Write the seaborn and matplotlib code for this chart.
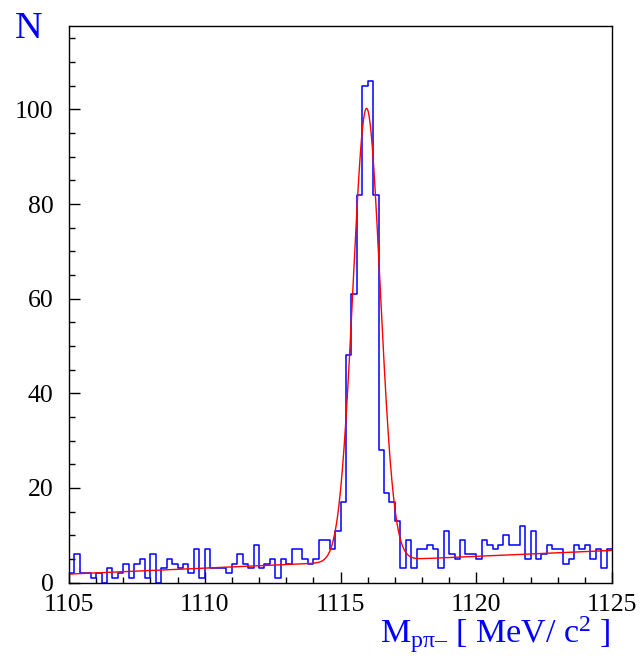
import matplotlib
matplotlib.use("Agg")
import matplotlib.pyplot as plt
import seaborn as sns
import numpy as np
import pandas as pd
from matplotlib.ticker import MultipleLocator

# histogram: 100 bins of 0.2 MeV between 1105 and 1125
bin_lo = 1105.0
bin_hi = 1125.0
bin_w = 0.2
counts = [2, 6, 2, 2, 1, 2, 0, 3, 1, 2,
          4, 1, 4, 5, 1, 6, 0, 3, 5, 4,
          3, 4, 2, 7, 1, 7, 3, 3, 3, 2,
          4, 6, 4, 3, 8, 3, 4, 5, 1, 5,
          4, 7, 7, 5, 4, 5, 9, 9, 7, 11,
          17, 48, 61, 82, 105, 106, 82, 28, 19, 17,
          13, 3, 9, 3, 7, 7, 8, 7, 3, 11,
          6, 5, 9, 6, 6, 5, 9, 8, 7, 8,
          10, 8, 8, 12, 5, 11, 5, 6, 8, 7,
          7, 4, 5, 8, 7, 8, 5, 7, 3, 7]

# fit: gaussian + linear background
fit_mean = 1115.96
fit_sigma = 0.5
fit_amp = 95.7
bg_start = 1.8
bg_slope = 0.25

x_ticks = [1105, 1110, 1115, 1120, 1125]
y_ticks = [0, 20, 40, 60, 80, 100]

sns.set_theme(style="ticks")
plt.rcParams["font.family"] = ["Liberation Serif", "DejaVu Serif"]
plt.rcParams["mathtext.fontset"] = "custom"
plt.rcParams["mathtext.rm"] = "Liberation Serif"
plt.rcParams["mathtext.it"] = "Liberation Serif:italic"

fig = plt.figure(figsize=(6.43, 6.59), dpi=100)
ax = fig.add_axes([69 / 643, 1 - 582.6 / 659, 543 / 643, 556.9 / 659])

centers = bin_lo + bin_w * (np.arange(len(counts)) + 0.5)
hist_df = pd.DataFrame({"mass": centers, "n": counts})
sns.histplot(data=hist_df, x="mass", weights="n", binwidth=bin_w,
             binrange=(bin_lo, bin_hi), element="step", fill=False,
             color="#0000ff", linewidth=1.1, ax=ax)

xf = np.linspace(bin_lo, bin_hi, 1000)
yf = bg_start + bg_slope * (xf - bin_lo) + fit_amp * np.exp(-0.5 * ((xf - fit_mean) / fit_sigma) ** 2)
sns.lineplot(x=xf, y=yf, color="#ff0000", linewidth=1.0, ax=ax)

ax.set_xlim(bin_lo, bin_hi)
ax.set_ylim(0, 117.7)
ax.set_xticks(x_ticks)
ax.set_yticks(y_ticks)
ax.xaxis.set_minor_locator(MultipleLocator(1))
ax.yaxis.set_minor_locator(MultipleLocator(5))
ax.tick_params(which="both", direction="in", colors="black", labelsize=18.5)
ax.tick_params(which="major", length=8, width=1)
ax.tick_params(which="minor", length=4, width=1)
ax.tick_params(axis="y", pad=11)
ax.tick_params(axis="x", pad=8)
for s in ax.spines.values():
    s.set_color("black")
    s.set_linewidth(1.0)
ax.set_xlabel("")
ax.set_ylabel("")

fig.text(15 / 643, 1 - 38 / 659, "N", color="#0000ff", fontsize=27.5,
         ha="left", va="baseline")
fig.text(611 / 643, 1 - 643.5 / 659, r"M$_{\mathrm{pπ–}}$ [ MeV/ c$^{2}$ ]",
         color="#0000ff", fontsize=24.5, ha="right", va="baseline")

fig.savefig("out.png", dpi=100)
